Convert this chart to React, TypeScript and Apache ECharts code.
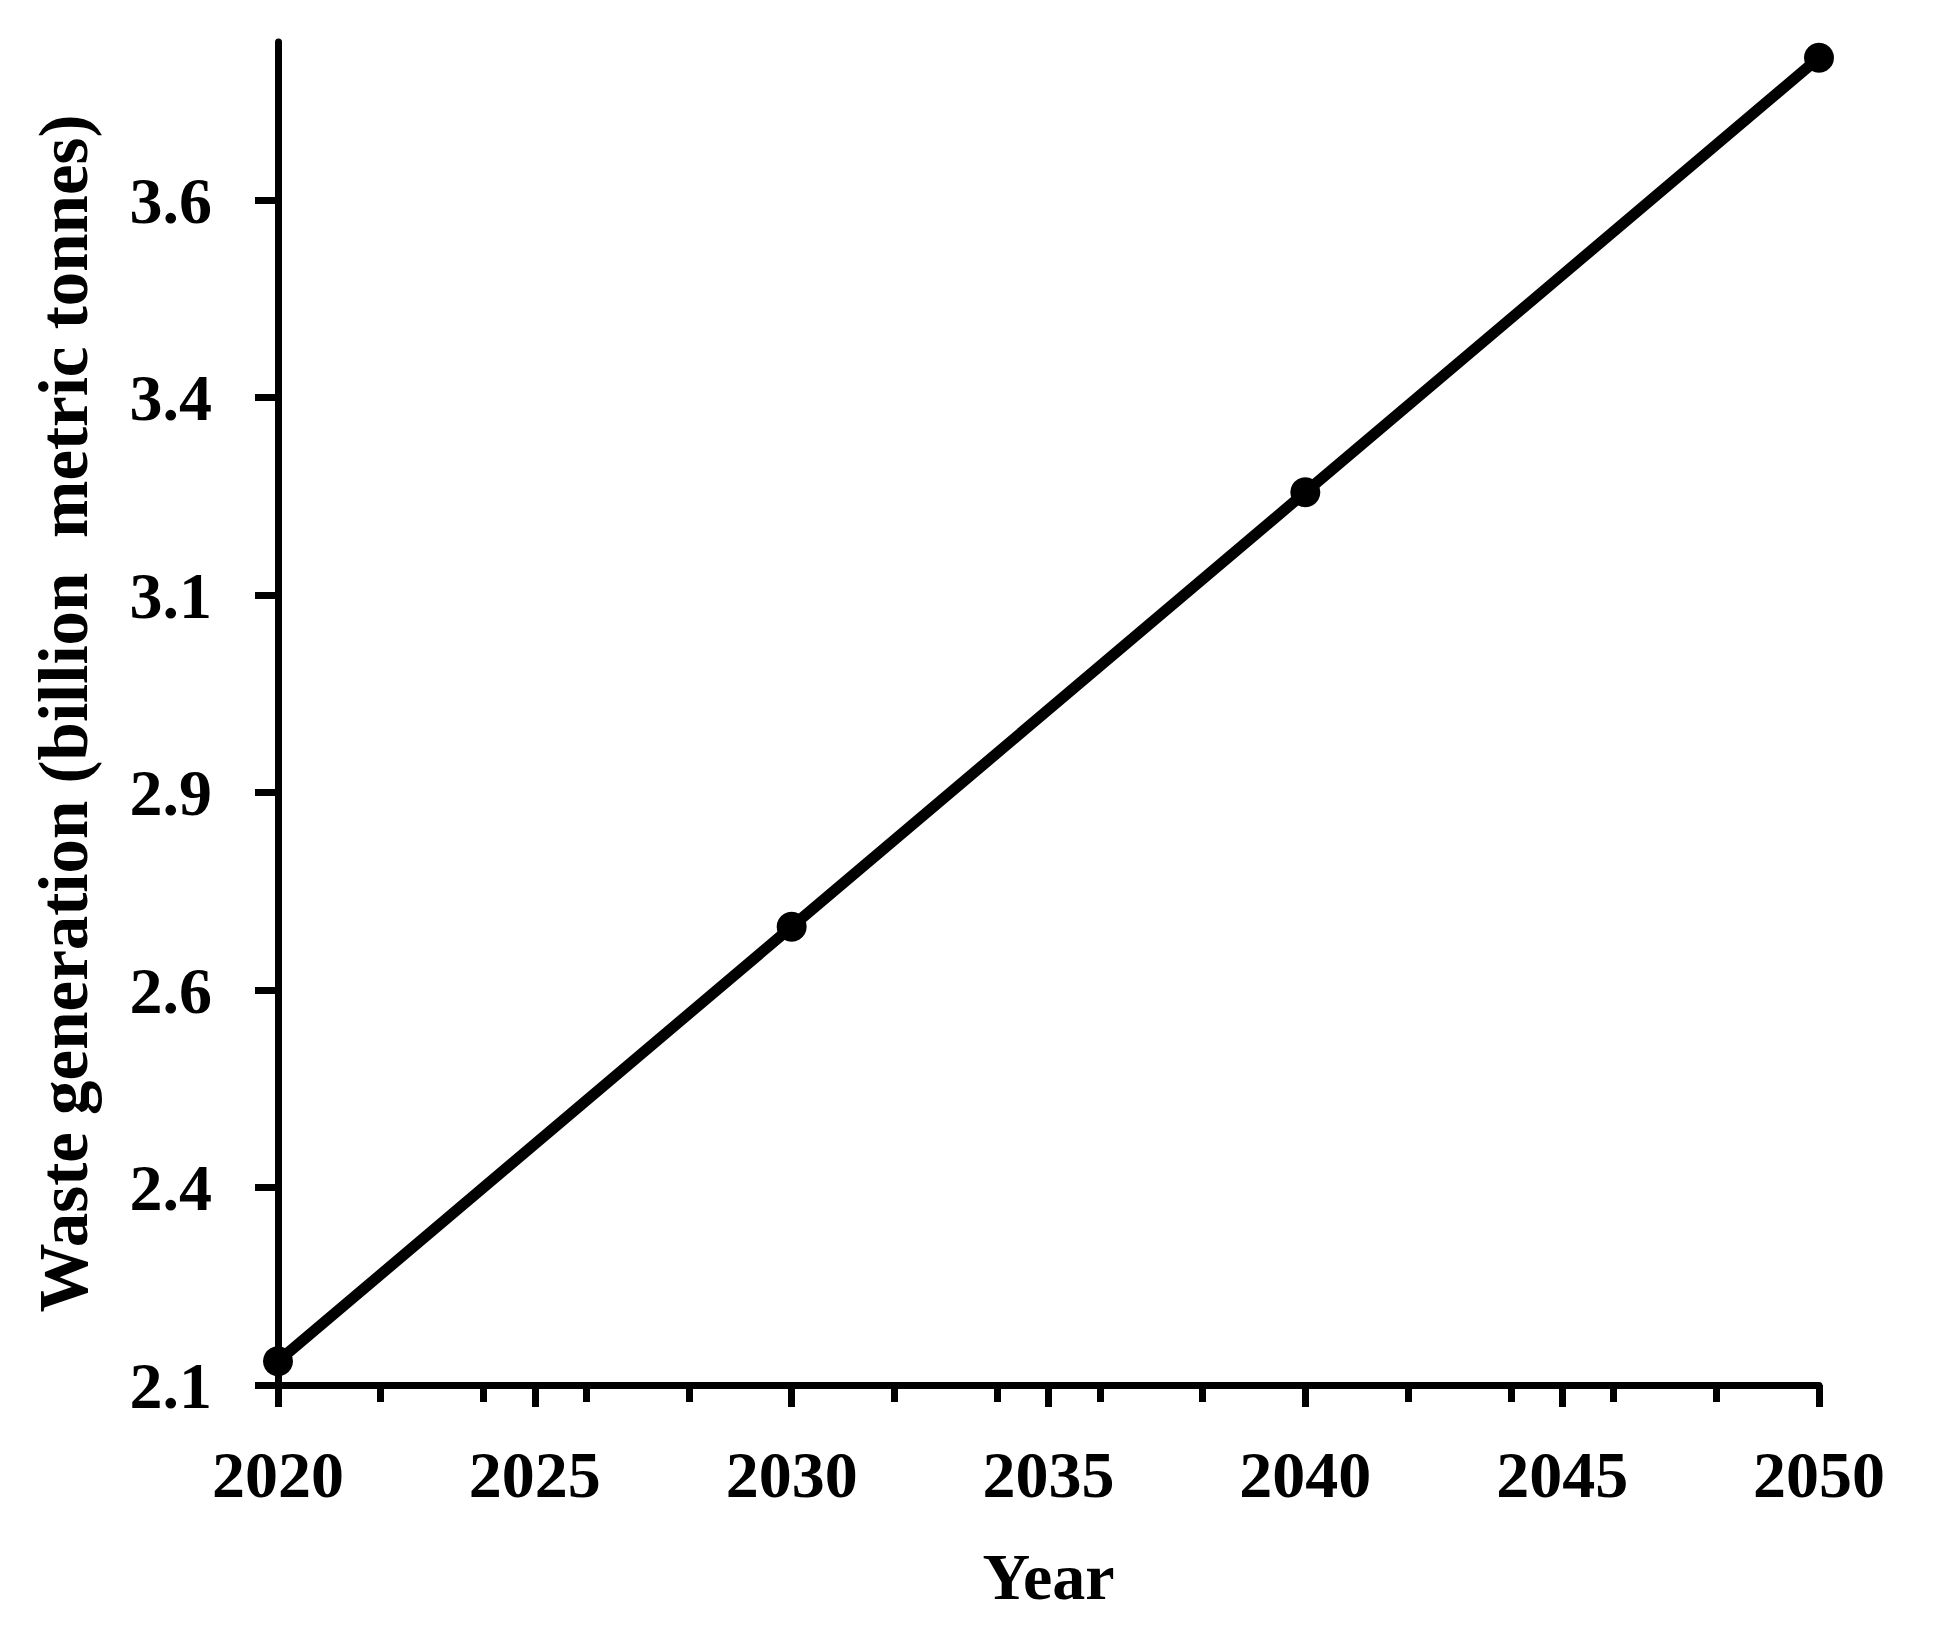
import React, { useEffect, useRef } from "react";
import * as echarts from "echarts";

const years = [2020, 2030, 2040, 2050];
const wasteValues = [2.13, 2.68, 3.23, 3.78];
const yTickValues = [2.1, 2.35, 2.6, 2.85, 3.1, 3.35, 3.6];
const yTickLabels = ["2.1", "2.4", "2.6", "2.9", "3.1", "3.4", "3.6"];
const xMajorTicks = [2020, 2025, 2030, 2035, 2040, 2045, 2050];
const yTitle = "Waste generation (billion  metric tonnes)";
const xTitle = "Year";

const FONT = "'Liberation Serif', 'DejaVu Serif', serif";

export default function App() {
  const ref = useRef<HTMLDivElement>(null);
  useEffect(() => {
    document.body.style.margin = "0";
    const chart = echarts.init(ref.current!, null, { renderer: "svg" });
    const lineStyle = { color: "#000", width: 7 };
    chart.setOption({
      animation: false,
      backgroundColor: "#fff",
      grid: { left: 278, right: 122, top: 42, bottom: 248, containLabel: false },
      xAxis: [
        {
          type: "value",
          min: 2020,
          max: 2050,
          interval: 5,
          axisLine: { show: true, lineStyle },
          axisTick: { show: true, inside: false, length: 22, lineStyle },
          splitLine: { show: false },
          axisLabel: {
            show: true,
            margin: 56,
            color: "#000",
            fontFamily: FONT,
            fontWeight: "bold",
            fontSize: 66,
            customValues: xMajorTicks,
            formatter: (v: number) => String(v),
          },
          name: xTitle,
          nameLocation: "middle",
          nameGap: 158,
          nameTextStyle: { color: "#000", fontFamily: FONT, fontWeight: "bold", fontSize: 66 },
        },
        {
          type: "value",
          min: 2020,
          max: 2050,
          interval: 2,
          position: "bottom",
          axisLine: { show: false },
          axisTick: { show: true, inside: false, length: 17, lineStyle },
          splitLine: { show: false },
          axisLabel: { show: false },
        },
      ],
      yAxis: {
        type: "value",
        min: 2.1,
        max: 3.8,
        axisLine: { show: true, lineStyle },
        axisTick: { show: true, inside: false, length: 23, lineStyle, customValues: yTickValues },
        splitLine: { show: false },
        axisLabel: {
          show: true,
          margin: 66,
          color: "#000",
          fontFamily: FONT,
          fontWeight: "bold",
          fontSize: 66,
          customValues: yTickValues,
          formatter: (v: number) => {
            const i = yTickValues.findIndex((t) => Math.abs(t - v) < 1e-6);
            return i >= 0 ? yTickLabels[i] : "";
          },
        },
        name: yTitle,
        nameLocation: "middle",
        nameGap: 180,
        nameRotate: 90,
        nameTextStyle: { color: "#000", fontFamily: FONT, fontWeight: "bold", fontSize: 69 },
      },
      series: [
        {
          type: "line",
          xAxisIndex: 0,
          data: years.map((y, i) => [y, wasteValues[i]]),
          symbol: "circle",
          symbolSize: 30,
          itemStyle: { color: "#000" },
          lineStyle: { color: "#000", width: 11 },
          clip: false,
        },
      ],
    });
    return () => chart.dispose();
  }, []);
  return <div ref={ref} style={{ width: 1941, height: 1633 }} />;
}
